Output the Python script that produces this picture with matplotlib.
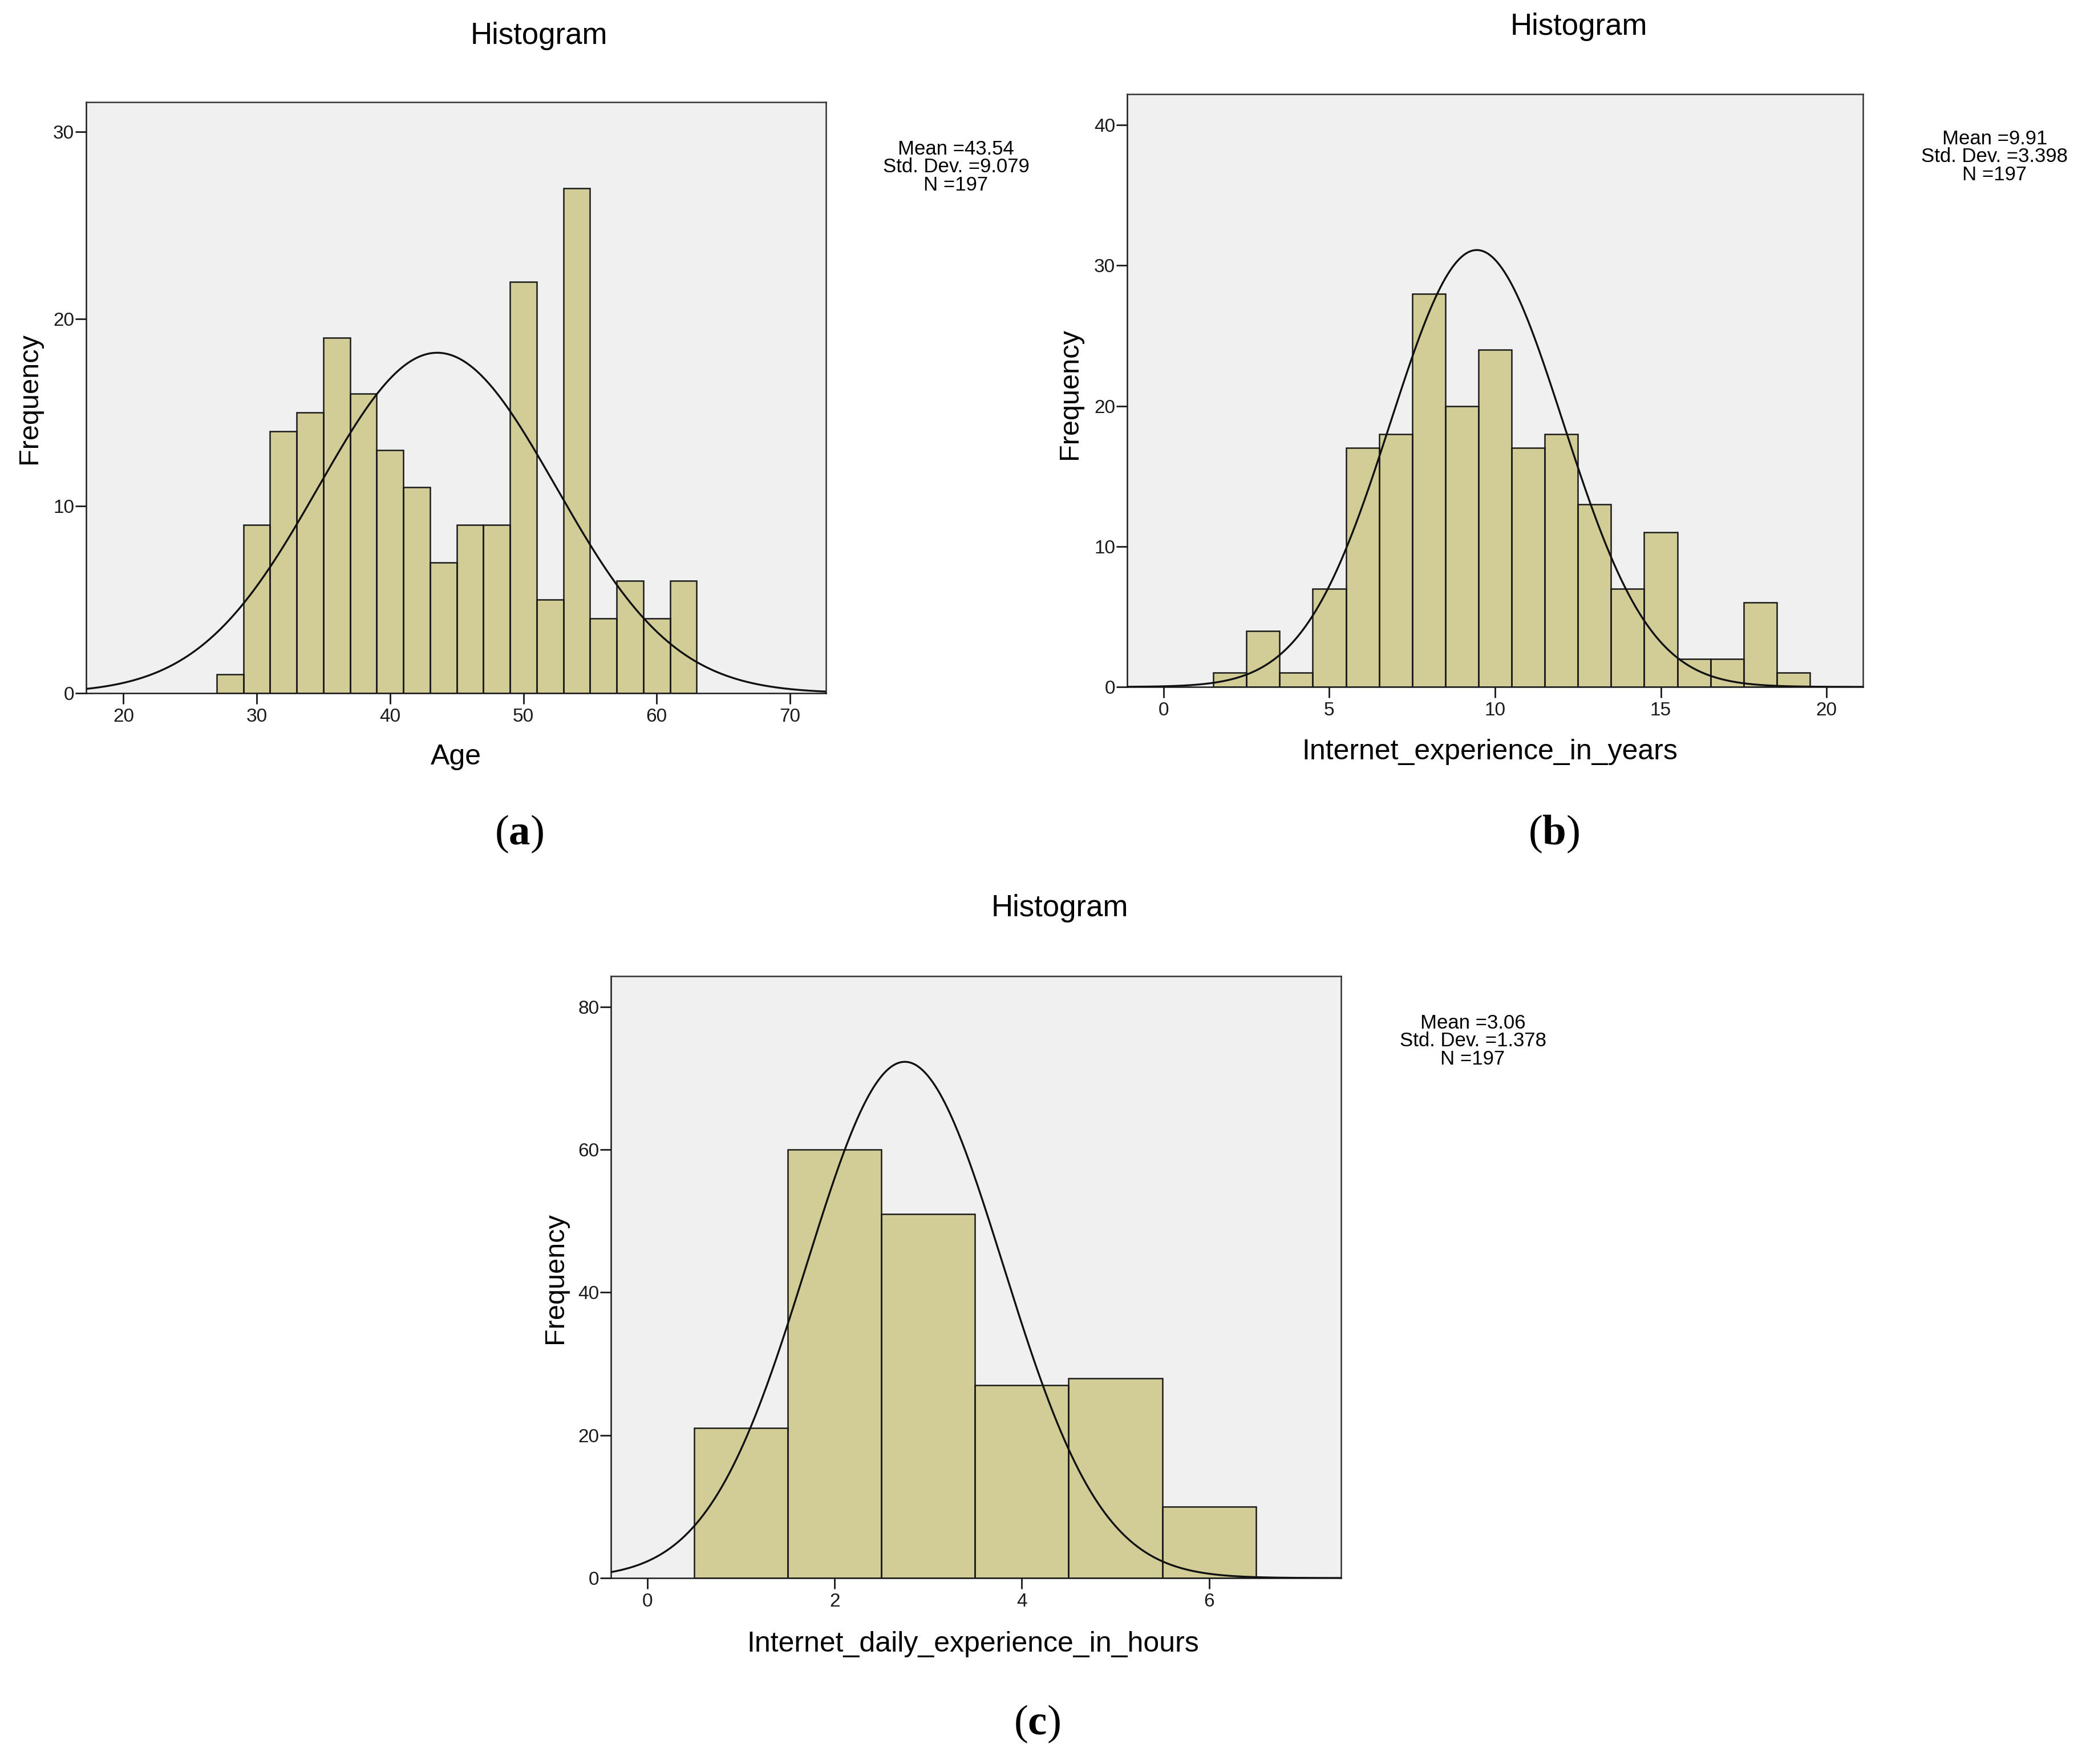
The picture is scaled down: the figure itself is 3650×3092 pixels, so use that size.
import numpy as np
import matplotlib
matplotlib.use("Agg")
import matplotlib.pyplot as plt

plt.rcParams["font.family"] = ["Liberation Sans", "DejaVu Sans"]
plt.rcParams["mathtext.fontset"] = "custom"
plt.rcParams["mathtext.rm"] = "Liberation Serif"
plt.rcParams["mathtext.bf"] = "Liberation Serif:bold"

# --- data ---
age_edges = [27, 29, 31, 33, 35, 37, 39, 41, 43, 45, 47, 49, 51, 53, 55, 57, 59, 61, 63]
age_counts = [1, 9, 14, 15, 19, 16, 13, 11, 7, 9, 9, 22, 5, 27, 4, 6, 4, 6]

years_edges = [1.5, 2.5, 3.5, 4.5, 5.5, 6.5, 7.5, 8.5, 9.5, 10.5, 11.5, 12.5, 13.5,
               14.5, 15.5, 16.5, 17.5, 18.5, 19.5]
years_counts = [1, 4, 1, 7, 17, 18, 28, 20, 24, 17, 18, 13, 7, 11, 2, 2, 6, 1]

hours_edges = [0.5, 1.5, 2.5, 3.5, 4.5, 5.5, 6.5]
hours_counts = [21, 60, 51, 27, 28, 10]

# normal curve as drawn: (centre, spread, peak height)
age_curve = (43.54, 8.9, 18.2)
years_curve = (9.45, 2.6, 31.1)
hours_curve = (2.75, 1.05, 72.3)

age_stats = "Mean =43.54\nStd. Dev. =9.079\nN =197"
years_stats = "Mean =9.91\nStd. Dev. =3.398\nN =197"
hours_stats = "Mean =3.06\nStd. Dev. =1.378\nN =197"

W, H = 3650, 3092
BAR = "#d2cd97"
BG = "#eff0ef"

fig = plt.figure(figsize=(W / 100, H / 100), dpi=100)


def px(x, y):
    return x / W, 1 - y / H


def panel(box, edges, counts, curve, xlim, ylim, xticks, yticks, xlabel,
          stats, title_xy, stats_xy, xlabel_xy, ylabel_xy, tag, tag_xy):
    l, t, r, b = box
    ax = fig.add_axes([l / W, 1 - b / H, (r - l) / W, (b - t) / H])
    ax.set_facecolor(BG)
    ax.stairs(counts, edges, fill=True, facecolor=BAR, edgecolor="none", zorder=2)
    ax.bar(edges[:-1], counts, width=np.diff(edges), align="edge",
           facecolor="none", edgecolor="#1a1a1a", linewidth=1.8, zorder=3)
    mu, sd, peak = curve
    xs = np.linspace(xlim[0], xlim[1], 600)
    ax.plot(xs, peak * np.exp(-0.5 * ((xs - mu) / sd) ** 2), color="#111111",
            linewidth=2.4, zorder=4)
    ax.set_xlim(*xlim)
    ax.set_ylim(*ylim)
    ax.set_xticks(xticks)
    ax.set_yticks(yticks)
    ax.tick_params(axis="both", direction="out", length=14, width=2,
                   labelsize=24, colors="#1a1a1a")
    ax.tick_params(axis="y", pad=1)
    ax.tick_params(axis="x", pad=5)
    for s in ax.spines.values():
        s.set_linewidth(1.8)
        s.set_color("#333333")
    ax.spines["bottom"].set_color("#1a1a1a")
    ax.spines["left"].set_color("#1a1a1a")

    fig.text(*px(*title_xy), "Histogram", fontsize=38, ha="center", va="center")
    fig.text(*px(*stats_xy), stats, fontsize=25, ha="center", va="center",
             linespacing=0.95)
    fig.text(*px(*xlabel_xy), xlabel, fontsize=36, ha="center", va="center")
    fig.text(*px(*ylabel_xy), "Frequency", fontsize=35, ha="center", va="center",
             rotation=90)
    fig.text(*px(*tag_xy), "($\\mathbf{" + tag + "}$)", fontsize=54,
             family="Liberation Serif", ha="center", va="center")
    return ax


panel((151, 179, 1448, 1215), age_edges, age_counts, age_curve,
      (17.2, 72.7), (0, 31.6), [20, 30, 40, 50, 60, 70], [0, 10, 20, 30], "Age",
      age_stats, (945, 63), (1676, 293), (799, 1327), (51, 698), "a", (910, 1462))

panel((1976, 165, 3266, 1204), years_edges, years_counts, years_curve,
      (-1.1, 21.1), (0, 42.2), [0, 5, 10, 15, 20], [0, 10, 20, 30, 40],
      "Internet_experience_in_years",
      years_stats, (2768, 47), (3497, 275), (2612, 1318), (1876, 690), "b", (2724, 1462))

panel((1071, 1711, 2351, 2766), hours_edges, hours_counts, hours_curve,
      (-0.39, 7.41), (0, 84.3), [0, 2, 4, 6], [0, 20, 40, 60, 80],
      "Internet_daily_experience_in_hours",
      hours_stats, (1858, 1592), (2582, 1825), (1706, 2882), (973, 2240), "c", (1818, 3022))

fig.savefig("out.png", dpi=100, facecolor="white")
